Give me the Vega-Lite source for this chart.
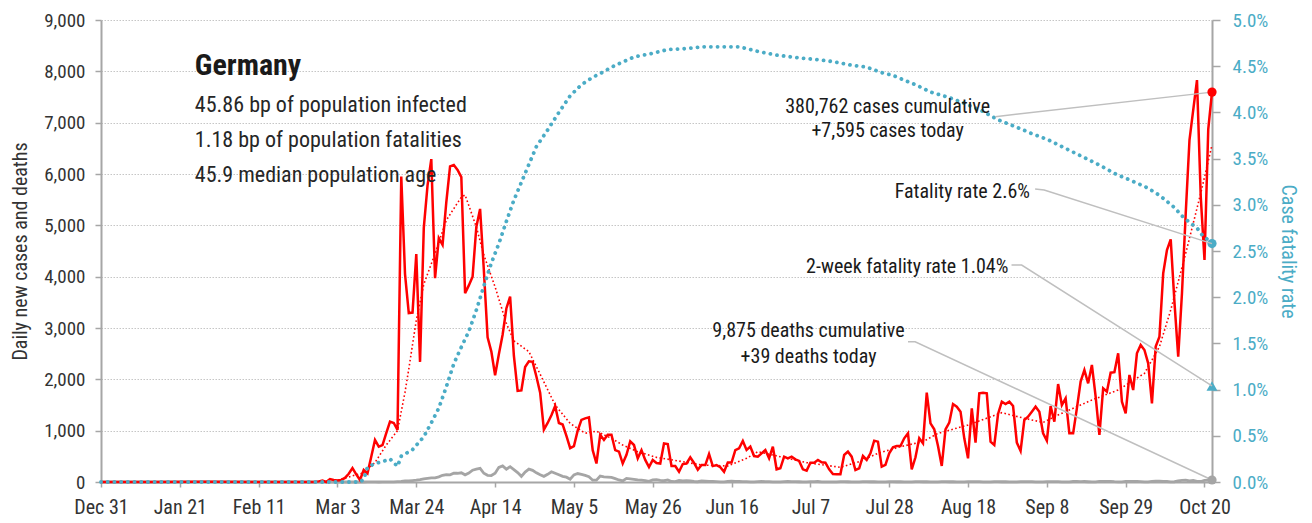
{
"$schema": "https://vega.github.io/schema/vega-lite/v6.json",
"autosize": {"type": "none"},
"padding": {"left": 101, "top": 20, "right": 100, "bottom": 41},
"width": 1111,
"height": 462,
"background": "white",
"datasets": {
"daily": [
{"date":"2019-12-31","cases":0,"deaths":0},{"date":"2020-01-14","cases":0,"deaths":0},{"date":"2020-01-28","cases":4,"deaths":0},{"date":"2020-02-11","cases":0,"deaths":0},
{"date":"2020-02-24","cases":0,"deaths":0},{"date":"2020-02-25","cases":0,"deaths":0},{"date":"2020-02-26","cases":2,"deaths":0},{"date":"2020-02-27","cases":12,"deaths":0},{"date":"2020-02-28","cases":27,"deaths":0},{"date":"2020-02-29","cases":0,"deaths":0},
{"date":"2020-03-01","cases":57,"deaths":0},{"date":"2020-03-02","cases":40,"deaths":0},{"date":"2020-03-03","cases":28,"deaths":0},{"date":"2020-03-04","cases":40,"deaths":0},{"date":"2020-03-05","cases":80,"deaths":0},{"date":"2020-03-06","cases":160,"deaths":0},{"date":"2020-03-07","cases":270,"deaths":0},{"date":"2020-03-08","cases":150,"deaths":0},{"date":"2020-03-09","cases":40,"deaths":2},{"date":"2020-03-10","cases":234,"deaths":0},
{"date":"2020-03-11","cases":169,"deaths":1},{"date":"2020-03-12","cases":490,"deaths":1},{"date":"2020-03-13","cases":818,"deaths":2},{"date":"2020-03-14","cases":688,"deaths":0},{"date":"2020-03-15","cases":720,"deaths":3},{"date":"2020-03-16","cases":950,"deaths":2},{"date":"2020-03-17","cases":1175,"deaths":4},{"date":"2020-03-18","cases":1150,"deaths":4},{"date":"2020-03-19","cases":1013,"deaths":8},{"date":"2020-03-20","cases":5950,"deaths":11},
{"date":"2020-03-21","cases":4050,"deaths":20},{"date":"2020-03-22","cases":3290,"deaths":20},{"date":"2020-03-23","cases":3300,"deaths":27},{"date":"2020-03-24","cases":4440,"deaths":35},{"date":"2020-03-25","cases":2340,"deaths":45},{"date":"2020-03-26","cases":4950,"deaths":60},{"date":"2020-03-27","cases":5780,"deaths":70},{"date":"2020-03-28","cases":6290,"deaths":80},{"date":"2020-03-29","cases":3970,"deaths":80},{"date":"2020-03-30","cases":4750,"deaths":100},{"date":"2020-03-31","cases":4620,"deaths":130},
{"date":"2020-04-01","cases":5450,"deaths":145},{"date":"2020-04-02","cases":6150,"deaths":140},{"date":"2020-04-03","cases":6175,"deaths":170},{"date":"2020-04-04","cases":6080,"deaths":170},{"date":"2020-04-05","cases":5940,"deaths":180},{"date":"2020-04-06","cases":3680,"deaths":140},{"date":"2020-04-07","cases":3830,"deaths":175},{"date":"2020-04-08","cases":4000,"deaths":230},{"date":"2020-04-09","cases":4970,"deaths":250},{"date":"2020-04-10","cases":5320,"deaths":266},
{"date":"2020-04-11","cases":4130,"deaths":170},{"date":"2020-04-12","cases":2820,"deaths":130},{"date":"2020-04-13","cases":2540,"deaths":126},{"date":"2020-04-14","cases":2080,"deaths":170},{"date":"2020-04-15","cases":2490,"deaths":285},{"date":"2020-04-16","cases":2870,"deaths":315},{"date":"2020-04-17","cases":3380,"deaths":250},{"date":"2020-04-18","cases":3610,"deaths":299},{"date":"2020-04-19","cases":2460,"deaths":242},{"date":"2020-04-20","cases":1775,"deaths":184},
{"date":"2020-04-21","cases":1785,"deaths":110},{"date":"2020-04-22","cases":2240,"deaths":194},{"date":"2020-04-23","cases":2350,"deaths":250},{"date":"2020-04-24","cases":2340,"deaths":227},{"date":"2020-04-25","cases":2055,"deaths":179},{"date":"2020-04-26","cases":1740,"deaths":140},{"date":"2020-04-27","cases":1020,"deaths":110},{"date":"2020-04-28","cases":1150,"deaths":150},{"date":"2020-04-29","cases":1300,"deaths":200},{"date":"2020-04-30","cases":1480,"deaths":170},
{"date":"2020-05-01","cases":1150,"deaths":140},{"date":"2020-05-02","cases":1120,"deaths":110},{"date":"2020-05-03","cases":900,"deaths":94},{"date":"2020-05-04","cases":660,"deaths":54},{"date":"2020-05-05","cases":700,"deaths":139},{"date":"2020-05-06","cases":1000,"deaths":165},{"date":"2020-05-07","cases":1210,"deaths":147},{"date":"2020-05-08","cases":1240,"deaths":128},{"date":"2020-05-09","cases":1260,"deaths":103},{"date":"2020-05-10","cases":620,"deaths":35},
{"date":"2020-05-11","cases":360,"deaths":36},{"date":"2020-05-12","cases":920,"deaths":116},{"date":"2020-05-13","cases":820,"deaths":100},{"date":"2020-05-14","cases":920,"deaths":94},{"date":"2020-05-15","cases":920,"deaths":89},{"date":"2020-05-16","cases":620,"deaths":66},{"date":"2020-05-17","cases":590,"deaths":40},{"date":"2020-05-18","cases":360,"deaths":20},{"date":"2020-05-19","cases":530,"deaths":70},{"date":"2020-05-20","cases":790,"deaths":60},
{"date":"2020-05-21","cases":720,"deaths":50},{"date":"2020-05-22","cases":460,"deaths":40},{"date":"2020-05-23","cases":620,"deaths":35},{"date":"2020-05-24","cases":430,"deaths":25},{"date":"2020-05-25","cases":290,"deaths":12},{"date":"2020-05-26","cases":430,"deaths":40},{"date":"2020-05-27","cases":370,"deaths":45},{"date":"2020-05-28","cases":360,"deaths":30},{"date":"2020-05-29","cases":750,"deaths":25},{"date":"2020-05-30","cases":740,"deaths":40},{"date":"2020-05-31","cases":310,"deaths":10},
{"date":"2020-06-01","cases":310,"deaths":8},{"date":"2020-06-02","cases":200,"deaths":30},{"date":"2020-06-03","cases":350,"deaths":20},{"date":"2020-06-04","cases":360,"deaths":25},{"date":"2020-06-05","cases":480,"deaths":20},{"date":"2020-06-06","cases":370,"deaths":10},{"date":"2020-06-07","cases":240,"deaths":5},{"date":"2020-06-08","cases":330,"deaths":20},{"date":"2020-06-09","cases":330,"deaths":15},{"date":"2020-06-10","cases":545,"deaths":10},
{"date":"2020-06-11","cases":310,"deaths":12},{"date":"2020-06-12","cases":330,"deaths":8},{"date":"2020-06-13","cases":290,"deaths":3},{"date":"2020-06-14","cases":200,"deaths":3},{"date":"2020-06-15","cases":380,"deaths":10},{"date":"2020-06-16","cases":380,"deaths":15},{"date":"2020-06-17","cases":620,"deaths":12},{"date":"2020-06-18","cases":656,"deaths":10},{"date":"2020-06-19","cases":800,"deaths":8},{"date":"2020-06-20","cases":623,"deaths":6},
{"date":"2020-06-21","cases":688,"deaths":3},{"date":"2020-06-22","cases":506,"deaths":4},{"date":"2020-06-23","cases":494,"deaths":8},{"date":"2020-06-24","cases":558,"deaths":10},{"date":"2020-06-25","cases":623,"deaths":6},{"date":"2020-06-26","cases":461,"deaths":8},{"date":"2020-06-27","cases":688,"deaths":4},{"date":"2020-06-28","cases":247,"deaths":3},{"date":"2020-06-29","cases":267,"deaths":2},{"date":"2020-06-30","cases":494,"deaths":6},
{"date":"2020-07-01","cases":461,"deaths":10},{"date":"2020-07-02","cases":494,"deaths":8},{"date":"2020-07-03","cases":442,"deaths":6},{"date":"2020-07-04","cases":410,"deaths":5},{"date":"2020-07-05","cases":247,"deaths":2},{"date":"2020-07-06","cases":221,"deaths":1},{"date":"2020-07-07","cases":377,"deaths":6},{"date":"2020-07-08","cases":377,"deaths":8},{"date":"2020-07-09","cases":429,"deaths":10},{"date":"2020-07-10","cases":383,"deaths":4},
{"date":"2020-07-11","cases":377,"deaths":3},{"date":"2020-07-12","cases":247,"deaths":2},{"date":"2020-07-13","cases":156,"deaths":1},{"date":"2020-07-14","cases":150,"deaths":4},{"date":"2020-07-15","cases":150,"deaths":8},{"date":"2020-07-16","cases":526,"deaths":6},{"date":"2020-07-17","cases":591,"deaths":5},{"date":"2020-07-18","cases":494,"deaths":3},{"date":"2020-07-19","cases":234,"deaths":2},{"date":"2020-07-20","cases":267,"deaths":4},
{"date":"2020-07-21","cases":506,"deaths":6},{"date":"2020-07-22","cases":429,"deaths":8},{"date":"2020-07-23","cases":558,"deaths":5},{"date":"2020-07-24","cases":805,"deaths":6},{"date":"2020-07-25","cases":786,"deaths":2},{"date":"2020-07-26","cases":299,"deaths":1},{"date":"2020-07-27","cases":332,"deaths":4},{"date":"2020-07-28","cases":559,"deaths":6},{"date":"2020-07-29","cases":676,"deaths":8},{"date":"2020-07-30","cases":702,"deaths":5},{"date":"2020-07-31","cases":702,"deaths":7},
{"date":"2020-08-01","cases":851,"deaths":4},{"date":"2020-08-02","cases":948,"deaths":1},{"date":"2020-08-03","cases":247,"deaths":2},{"date":"2020-08-04","cases":481,"deaths":8},{"date":"2020-08-05","cases":851,"deaths":6},{"date":"2020-08-06","cases":754,"deaths":5},{"date":"2020-08-07","cases":1740,"deaths":7},{"date":"2020-08-08","cases":1143,"deaths":4},{"date":"2020-08-09","cases":1026,"deaths":1},{"date":"2020-08-10","cases":702,"deaths":2},
{"date":"2020-08-11","cases":312,"deaths":6},{"date":"2020-08-12","cases":1026,"deaths":8},{"date":"2020-08-13","cases":1156,"deaths":5},{"date":"2020-08-14","cases":1519,"deaths":6},{"date":"2020-08-15","cases":1467,"deaths":3},{"date":"2020-08-16","cases":1370,"deaths":1},{"date":"2020-08-17","cases":851,"deaths":2},{"date":"2020-08-18","cases":461,"deaths":6},{"date":"2020-08-19","cases":1435,"deaths":8},{"date":"2020-08-20","cases":767,"deaths":6},
{"date":"2020-08-21","cases":1728,"deaths":7},{"date":"2020-08-22","cases":1740,"deaths":4},{"date":"2020-08-23","cases":1728,"deaths":1},{"date":"2020-08-24","cases":786,"deaths":2},{"date":"2020-08-25","cases":721,"deaths":6},{"date":"2020-08-26","cases":1325,"deaths":8},{"date":"2020-08-27","cases":1565,"deaths":5},{"date":"2020-08-28","cases":1519,"deaths":6},{"date":"2020-08-29","cases":1565,"deaths":3},{"date":"2020-08-30","cases":1480,"deaths":1},{"date":"2020-08-31","cases":767,"deaths":2},
{"date":"2020-09-01","cases":604,"deaths":6},{"date":"2020-09-02","cases":1208,"deaths":8},{"date":"2020-09-03","cases":1273,"deaths":7},{"date":"2020-09-04","cases":1370,"deaths":6},{"date":"2020-09-05","cases":1467,"deaths":4},{"date":"2020-09-06","cases":1370,"deaths":1},{"date":"2020-09-07","cases":948,"deaths":2},{"date":"2020-09-08","cases":805,"deaths":8},{"date":"2020-09-09","cases":1480,"deaths":9},{"date":"2020-09-10","cases":1175,"deaths":7},
{"date":"2020-09-11","cases":1909,"deaths":8},{"date":"2020-09-12","cases":1500,"deaths":4},{"date":"2020-09-13","cases":1630,"deaths":1},{"date":"2020-09-14","cases":948,"deaths":2},{"date":"2020-09-15","cases":948,"deaths":10},{"date":"2020-09-16","cases":1435,"deaths":12},{"date":"2020-09-17","cases":1955,"deaths":9},{"date":"2020-09-18","cases":2182,"deaths":10},{"date":"2020-09-19","cases":1922,"deaths":5},{"date":"2020-09-20","cases":2280,"deaths":1},
{"date":"2020-09-21","cases":1662,"deaths":2},{"date":"2020-09-22","cases":916,"deaths":12},{"date":"2020-09-23","cases":1825,"deaths":13},{"date":"2020-09-24","cases":1760,"deaths":10},{"date":"2020-09-25","cases":2130,"deaths":12},{"date":"2020-09-26","cases":2140,"deaths":6},{"date":"2020-09-27","cases":2507,"deaths":2},{"date":"2020-09-28","cases":1565,"deaths":3},{"date":"2020-09-29","cases":1337,"deaths":12},{"date":"2020-09-30","cases":2085,"deaths":14},
{"date":"2020-10-01","cases":1792,"deaths":12},{"date":"2020-10-02","cases":2507,"deaths":10},{"date":"2020-10-03","cases":2669,"deaths":6},{"date":"2020-10-04","cases":2572,"deaths":2},{"date":"2020-10-05","cases":2312,"deaths":3},{"date":"2020-10-06","cases":1532,"deaths":14},{"date":"2020-10-07","cases":2637,"deaths":16},{"date":"2020-10-08","cases":2832,"deaths":18},{"date":"2020-10-09","cases":4065,"deaths":12},{"date":"2020-10-10","cases":4520,"deaths":10},
{"date":"2020-10-11","cases":4727,"deaths":4},{"date":"2020-10-12","cases":3500,"deaths":5},{"date":"2020-10-13","cases":2441,"deaths":20},{"date":"2020-10-14","cases":3676,"deaths":30},{"date":"2020-10-15","cases":5234,"deaths":35},{"date":"2020-10-16","cases":6662,"deaths":20},{"date":"2020-10-17","cases":7250,"deaths":30},{"date":"2020-10-18","cases":7830,"deaths":12},{"date":"2020-10-19","cases":5560,"deaths":10},{"date":"2020-10-20","cases":4325,"deaths":30},{"date":"2020-10-21","cases":6870,"deaths":35},{"date":"2020-10-22","cases":7595,"deaths":39}
],
"ma": [
{"date":"2020-03-03","ma":30},{"date":"2020-03-07","ma":120},{"date":"2020-03-10","ma":180},{"date":"2020-03-13","ma":380},{"date":"2020-03-16","ma":720},{"date":"2020-03-19","ma":1000},{"date":"2020-03-21","ma":1750},{"date":"2020-03-22","ma":2200},{"date":"2020-03-24","ma":3150},{"date":"2020-03-26","ma":3850},{"date":"2020-03-29","ma":4450},{"date":"2020-04-01","ma":5100},{"date":"2020-04-05","ma":5550},{"date":"2020-04-06","ma":5590},{"date":"2020-04-09","ma":4970},{"date":"2020-04-11","ma":4420},{"date":"2020-04-14","ma":3800},{"date":"2020-04-17","ma":3090},{"date":"2020-04-19","ma":2750},{"date":"2020-04-23","ma":2540},{"date":"2020-04-26","ma":2100},{"date":"2020-04-30","ma":1500},{"date":"2020-05-04","ma":1140},{"date":"2020-05-08","ma":950},{"date":"2020-05-11","ma":990},{"date":"2020-05-15","ma":850},{"date":"2020-05-18","ma":720},{"date":"2020-05-22","ma":590},{"date":"2020-05-27","ma":480},{"date":"2020-06-03","ma":396},{"date":"2020-06-08","ma":331},{"date":"2020-06-15","ma":312},{"date":"2020-06-20","ma":461},{"date":"2020-06-23","ma":590},{"date":"2020-06-29","ma":493},{"date":"2020-07-06","ma":377},{"date":"2020-07-15","ma":286},{"date":"2020-07-20","ma":396},{"date":"2020-07-25","ma":559},{"date":"2020-07-31","ma":688},{"date":"2020-08-06","ma":786},{"date":"2020-08-10","ma":948},{"date":"2020-08-18","ma":1110},{"date":"2020-08-27","ma":1350},{"date":"2020-09-02","ma":1241},{"date":"2020-09-07","ma":1160},{"date":"2020-09-11","ma":1305},{"date":"2020-09-13","ma":1370},{"date":"2020-09-20","ma":1597},{"date":"2020-09-27","ma":1792},{"date":"2020-10-04","ma":2117},{"date":"2020-10-08","ma":2636},{"date":"2020-10-11","ma":3350},{"date":"2020-10-15","ma":4455},{"date":"2020-10-19","ma":5624},{"date":"2020-10-22","ma":6565}
],
"cfr": [
{"date":"2019-12-31","cfr":0},{"date":"2020-03-09","cfr":0},{"date":"2020-03-10","cfr":0.0003},{"date":"2020-03-11","cfr":0.0016},{"date":"2020-03-13","cfr":0.002},{"date":"2020-03-15","cfr":0.0022},{"date":"2020-03-17","cfr":0.0025},{"date":"2020-03-19","cfr":0.0017},{"date":"2020-03-20","cfr":0.0028},{"date":"2020-03-23","cfr":0.0035},{"date":"2020-03-26","cfr":0.0049},{"date":"2020-03-28","cfr":0.0064},{"date":"2020-03-30","cfr":0.008},{"date":"2020-04-01","cfr":0.0103},{"date":"2020-04-03","cfr":0.0128},{"date":"2020-04-05","cfr":0.0146},{"date":"2020-04-07","cfr":0.0163},{"date":"2020-04-09","cfr":0.0186},{"date":"2020-04-11","cfr":0.0212},{"date":"2020-04-13","cfr":0.0237},{"date":"2020-04-15","cfr":0.0258},{"date":"2020-04-17","cfr":0.0282},{"date":"2020-04-19","cfr":0.0305},{"date":"2020-04-22","cfr":0.0334},{"date":"2020-04-25","cfr":0.0363},{"date":"2020-04-28","cfr":0.0381},{"date":"2020-05-01","cfr":0.04},{"date":"2020-05-04","cfr":0.0418},{"date":"2020-05-07","cfr":0.043},{"date":"2020-05-10","cfr":0.0438},{"date":"2020-05-12","cfr":0.0442},{"date":"2020-05-16","cfr":0.0451},{"date":"2020-05-21","cfr":0.046},{"date":"2020-05-26","cfr":0.0464},{"date":"2020-05-30","cfr":0.0468},{"date":"2020-06-04","cfr":0.0469},{"date":"2020-06-08","cfr":0.0471},{"date":"2020-06-18","cfr":0.0471},{"date":"2020-06-23","cfr":0.0466},{"date":"2020-06-28","cfr":0.0462},{"date":"2020-07-04","cfr":0.0459},{"date":"2020-07-09","cfr":0.0457},{"date":"2020-07-13","cfr":0.0455},{"date":"2020-07-18","cfr":0.0451},{"date":"2020-07-22","cfr":0.0449},{"date":"2020-07-26","cfr":0.0443},{"date":"2020-07-29","cfr":0.044},{"date":"2020-08-01","cfr":0.0435},{"date":"2020-08-04","cfr":0.043},{"date":"2020-08-08","cfr":0.0422},{"date":"2020-08-13","cfr":0.0416},{"date":"2020-08-17","cfr":0.041},{"date":"2020-08-22","cfr":0.0401},{"date":"2020-08-26","cfr":0.0392},{"date":"2020-08-31","cfr":0.0384},{"date":"2020-09-04","cfr":0.0377},{"date":"2020-09-08","cfr":0.0371},{"date":"2020-09-13","cfr":0.0361},{"date":"2020-09-18","cfr":0.0351},{"date":"2020-09-22","cfr":0.0343},{"date":"2020-09-26","cfr":0.0334},{"date":"2020-09-30","cfr":0.0327},{"date":"2020-10-04","cfr":0.032},{"date":"2020-10-07","cfr":0.0313},{"date":"2020-10-09","cfr":0.0307},{"date":"2020-10-12","cfr":0.0297},{"date":"2020-10-14","cfr":0.0288},{"date":"2020-10-16","cfr":0.0281},{"date":"2020-10-18","cfr":0.0275},{"date":"2020-10-19","cfr":0.0269},{"date":"2020-10-20","cfr":0.0265},{"date":"2020-10-21","cfr":0.0262},{"date":"2020-10-22","cfr":0.0258}
],
"cfrMarks": [
{"date":"2020-10-22","rate":0.0258,"kind":"Fatality rate"}
],
"twoWeek": [
{"date":"2020-10-22","rate":0.0104,"kind":"2-week fatality rate"}
],
"leaders": [
{"id":1,"k":0,"date":"2020-08-25T05:00:00Z","value":7116},{"id":1,"k":1,"date":"2020-10-22T00:00:00Z","value":7595},
{"id":2,"k":0,"date":"2020-09-04T21:00:00Z","value":5708},{"id":2,"k":1,"date":"2020-09-07T07:00:00Z","value":5688},{"id":2,"k":2,"date":"2020-10-22T00:00:00Z","value":4644},
{"id":3,"k":0,"date":"2020-08-29T14:00:00Z","value":4227},{"id":3,"k":1,"date":"2020-09-01T07:00:00Z","value":4227},{"id":3,"k":2,"date":"2020-10-22T00:00:00Z","value":1872},
{"id":4,"k":0,"date":"2020-08-02T00:00:00Z","value":2733},{"id":4,"k":1,"date":"2020-08-03T22:00:00Z","value":2733},{"id":4,"k":2,"date":"2020-10-22T00:00:00Z","value":39}
],
"heading": [
{"date":"2020-01-25","value":7929,"label":"Germany"}
],
"facts": [
{"date":"2020-01-25","value":7213,"label":"45.86 bp of population infected"},
{"date":"2020-01-25","value":6532,"label":"1.18 bp of population fatalities"},
{"date":"2020-01-25","value":5850,"label":"45.9 median population age"}
],
"notesC": [
{"date":"2020-07-27T14:00:00Z","value":7182,"label":"380,762 cases cumulative"},
{"date":"2020-07-27T14:00:00Z","value":6714,"label":"+7,595 cases today"},
{"date":"2020-07-06T12:00:00Z","value":2831,"label":"9,875 deaths cumulative"},
{"date":"2020-07-06T12:00:00Z","value":2325,"label":"+39 deaths today"}
],
"notesR": [
{"date":"2020-09-03T12:00:00Z","value":5527,"label":"Fatality rate 2.6%"},
{"date":"2020-08-28T18:00:00Z","value":4065,"label":"2-week fatality rate 1.04%"}
],
"endCases": [
{"date":"2020-10-22","value":7595}
],
"endDeaths": [
{"date":"2020-10-22","value":39}
]
},
"encoding": {
"x": {"field": "date", "type": "temporal",
 "scale": {"type": "utc", "domain": [{"year":2019,"month":12,"date":31,"utc":true},{"year":2020,"month":10,"date":22,"utc":true}]},
 "axis": {"title": null, "labelExpr": "utcFormat(datum.value, '%b %-d')", "labelOverlap": false, "labelFlush": false,
  "values": [
   {"year":2019,"month":12,"date":31,"utc":true},{"year":2020,"month":1,"date":21,"utc":true},{"year":2020,"month":2,"date":11,"utc":true},{"year":2020,"month":3,"date":3,"utc":true},{"year":2020,"month":3,"date":24,"utc":true},{"year":2020,"month":4,"date":14,"utc":true},{"year":2020,"month":5,"date":5,"utc":true},{"year":2020,"month":5,"date":26,"utc":true},{"year":2020,"month":6,"date":16,"utc":true},{"year":2020,"month":7,"date":7,"utc":true},{"year":2020,"month":7,"date":28,"utc":true},{"year":2020,"month":8,"date":18,"utc":true},{"year":2020,"month":9,"date":8,"utc":true},{"year":2020,"month":9,"date":29,"utc":true},{"year":2020,"month":10,"date":20,"utc":true}
  ]}}
},
"layer": [
 {
 "layer": [
  {"data": {"name": "daily"},
   "mark": {"type": "line", "color": "#a5a5a5", "strokeWidth": 2.8},
   "encoding": {"y": {"field": "deaths", "type": "quantitative", "scale": {"domain": [0, 9000], "nice": false},
     "axis": {"title": "Daily new cases and deaths", "labelExpr": "format(datum.value, ',')", "values": [0,1000,2000,3000,4000,5000,6000,7000,8000,9000]}}}},
  {"data": {"name": "daily"},
   "mark": {"type": "line", "color": "#ff0000", "strokeWidth": 2.5},
   "encoding": {"y": {"field": "cases", "type": "quantitative", "axis": {"title": "Daily new cases and deaths", "labelExpr": "format(datum.value, ',')", "values": [0,1000,2000,3000,4000,5000,6000,7000,8000,9000]}}}},
  {"data": {"name": "ma"},
   "mark": {"type": "line", "color": "#ff0000", "strokeWidth": 1.6, "strokeDash": [1.6, 2.4]},
   "encoding": {"y": {"field": "ma", "type": "quantitative", "axis": {"title": "Daily new cases and deaths", "labelExpr": "format(datum.value, ',')", "values": [0,1000,2000,3000,4000,5000,6000,7000,8000,9000]}}}}
 ]
 },
 {
 "layer": [
  {"data": {"name": "cfr"},
   "mark": {"type": "line", "color": "#4bacc6", "strokeWidth": 3.8, "strokeDash": [0.1, 6.6], "strokeCap": "round"},
   "encoding": {"y": {"field": "cfr", "type": "quantitative", "scale": {"domain": [0, 0.05], "nice": false},
     "axis": {"orient": "right", "title": "Case fatality rate", "labelExpr": "format(datum.value, '.1%')", "values": [0,0.005,0.01,0.015,0.02,0.025,0.03,0.035,0.04,0.045,0.05]}}}},
  {"data": {"name": "cfrMarks"},
   "mark": {"type": "point", "shape": "circle", "filled": true, "opacity": 1, "color": "#4bacc6", "size": 85},
   "encoding": {"y": {"field": "rate", "type": "quantitative"}}},
  {"data": {"name": "twoWeek"},
   "mark": {"type": "point", "shape": "triangle-up", "filled": true, "opacity": 1, "color": "#4bacc6", "size": 120},
   "encoding": {"y": {"field": "rate", "type": "quantitative"}}}
 ]
 },
 {
 "layer": [
  {"data": {"name": "leaders"},
   "mark": {"type": "line", "color": "#bfbfbf", "strokeWidth": 1.5},
   "encoding": {"y": {"field": "value", "type": "quantitative", "scale": {"domain": [0, 9000], "nice": false}, "axis": null},
     "detail": {"field": "id"}, "order": {"field": "k"}}},
  {"data": {"name": "heading"},
   "mark": {"type": "text", "align": "left", "baseline": "alphabetic", "font": "Roboto Condensed, DejaVu Sans Condensed, Roboto, sans-serif", "fontSize": 30, "fontWeight": "bold", "color": "#1a1a1a"},
   "encoding": {"y": {"field": "value", "type": "quantitative"}, "text": {"field": "label"}}},
  {"data": {"name": "facts"},
   "mark": {"type": "text", "align": "left", "baseline": "alphabetic", "font": "Roboto Condensed, DejaVu Sans Condensed, Roboto, sans-serif", "fontSize": 22, "color": "#262626"},
   "encoding": {"y": {"field": "value", "type": "quantitative"}, "text": {"field": "label"}}},
  {"data": {"name": "notesC"},
   "mark": {"type": "text", "align": "center", "baseline": "alphabetic", "font": "Roboto Condensed, DejaVu Sans Condensed, Roboto, sans-serif", "fontSize": 20, "color": "#1a1a1a"},
   "encoding": {"y": {"field": "value", "type": "quantitative"}, "text": {"field": "label"}}},
  {"data": {"name": "notesR"},
   "mark": {"type": "text", "align": "right", "baseline": "alphabetic", "font": "Roboto Condensed, DejaVu Sans Condensed, Roboto, sans-serif", "fontSize": 20, "color": "#1a1a1a"},
   "encoding": {"y": {"field": "value", "type": "quantitative"}, "text": {"field": "label"}}},
  {"data": {"name": "endCases"},
   "mark": {"type": "point", "shape": "circle", "filled": true, "opacity": 1, "color": "#ff0000", "size": 85},
   "encoding": {"y": {"field": "value", "type": "quantitative"}}},
  {"data": {"name": "endDeaths"},
   "mark": {"type": "point", "shape": "circle", "filled": true, "opacity": 1, "color": "#a5a5a5", "size": 85},
   "encoding": {"y": {"field": "value", "type": "quantitative"}}}
 ]
 }
],
"resolve": {"scale": {"y": "independent"}, "axis": {"y": "independent"}},
"config": {
 "view": {"stroke": null},
 "font": "Roboto Condensed, DejaVu Sans Condensed, Roboto, sans-serif",
 "axis": {"labelFont": "Roboto Condensed, DejaVu Sans Condensed, Roboto, sans-serif", "titleFont": "Roboto Condensed, DejaVu Sans Condensed, Roboto, sans-serif", "labelFontSize": 19, "titleFontSize": 20, "titleFontWeight": "normal", "labelColor": "#333333", "titleColor": "#333333", "domainColor": "#a6a6a6", "domainWidth": 2, "tickColor": "#a6a6a6", "tickWidth": 1.5, "grid": false},
 "axisLeft": {"grid": true, "gridColor": "#c6c6c6", "gridDash": [1.5, 1.5], "gridWidth": 1.2, "tickSize": 6, "labelPadding": 10, "titlePadding": 13},
 "axisRight": {"labelColor": "#4bacc6", "titleColor": "#4bacc6", "tickSize": 8, "labelPadding": 12, "titlePadding": 10, "grid": false},
 "axisBottom": {"tickSize": 5, "labelPadding": 10, "labelFontSize": 20}
}
}
